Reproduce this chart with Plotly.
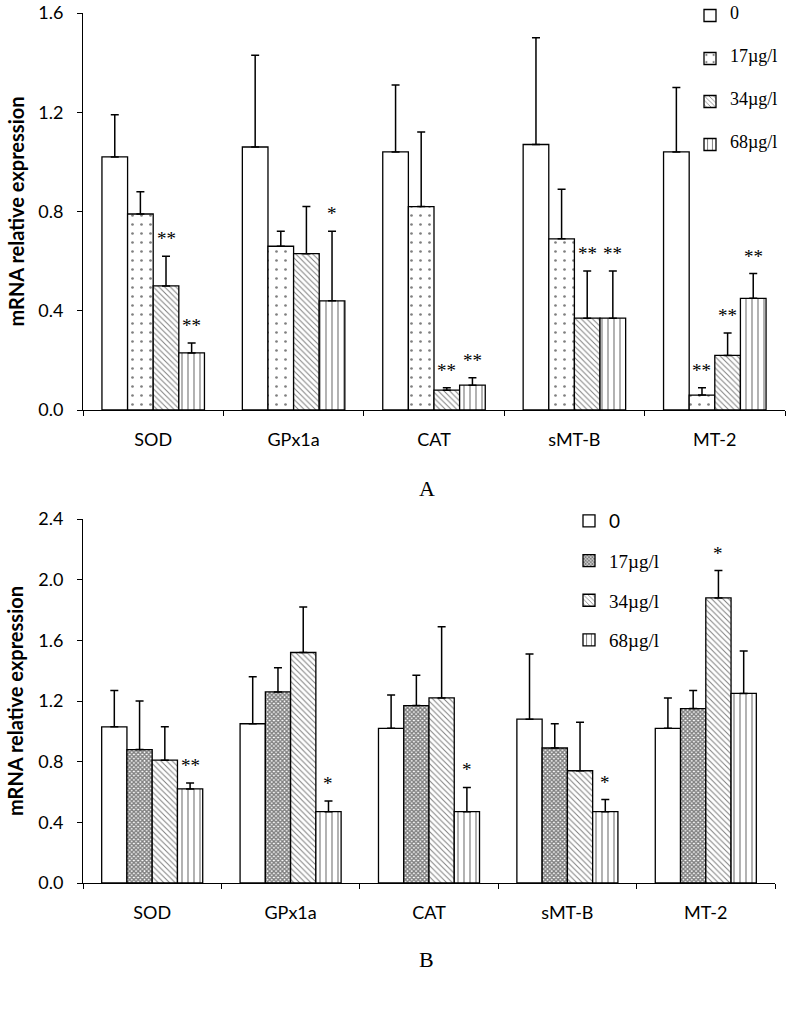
import plotly.graph_objects as go

cats = ['SOD', 'GPx1a', 'CAT', 'sMT-B', 'MT-2']
doses = ['0', '17µg/l', '34µg/l', '68µg/l']

# panel A: mean and top of error bar
a_mean = [
    [1.02, 1.06, 1.04, 1.07, 1.04],
    [0.79, 0.66, 0.82, 0.69, 0.06],
    [0.50, 0.63, 0.08, 0.37, 0.22],
    [0.23, 0.44, 0.10, 0.37, 0.45],
]
a_top = [
    [1.19, 1.43, 1.31, 1.50, 1.30],
    [0.88, 0.72, 1.12, 0.89, 0.09],
    [0.62, 0.82, 0.09, 0.56, 0.31],
    [0.27, 0.72, 0.13, 0.56, 0.55],
]
a_sig = [
    ['', '', '', '', ''],
    ['', '', '', '', '**'],
    ['**', '', '**', '**', '**'],
    ['**', '*', '**', '**', '**'],
]

# panel B
b_mean = [
    [1.03, 1.05, 1.02, 1.08, 1.02],
    [0.88, 1.26, 1.17, 0.89, 1.15],
    [0.81, 1.52, 1.22, 0.74, 1.88],
    [0.62, 0.47, 0.47, 0.47, 1.25],
]
b_top = [
    [1.27, 1.36, 1.24, 1.51, 1.22],
    [1.20, 1.42, 1.37, 1.05, 1.27],
    [1.03, 1.82, 1.69, 1.06, 2.06],
    [0.66, 0.54, 0.63, 0.55, 1.53],
]
b_sig = [
    ['', '', '', '', ''],
    ['', '', '', '', ''],
    ['', '', '', '', '*'],
    ['**', '*', '*', '*', ''],
]

W, H = 787, 1023
BARGAP = 0.27
SANS = 'Lato'
SERIF = 'Liberation Serif'

pat_a = [
    dict(shape=''),
    dict(shape='.', size=9, solidity=0.07, fgcolor='black', bgcolor='white'),
    dict(shape='\\', size=4, solidity=0.25, fgcolor='black', bgcolor='white'),
    dict(shape='|', size=6, solidity=0.2, fgcolor='black', bgcolor='white'),
]
pat_b = [
    dict(shape=''),
    dict(shape='x', size=3, solidity=0.7, fgcolor='black', bgcolor='white'),
    dict(shape='\\', size=4, solidity=0.25, fgcolor='black', bgcolor='white'),
    dict(shape='|', size=6, solidity=0.2, fgcolor='black', bgcolor='white'),
]

fig = go.Figure()
annos = []


def add_panel(means, tops, sigs, pats, xa, ya, leg, names):
    n = len(means)
    bw = (1 - BARGAP) / n
    for j in range(n):
        err = [t - m for t, m in zip(tops[j], means[j])]
        fig.add_trace(go.Bar(
            x=cats, y=means[j], name=names[j], xaxis=xa, yaxis=ya,
            legend=leg, legendgroup=leg + str(j),
            marker=dict(color='white', line=dict(color='black', width=1.3),
                        pattern=pats[j]),
            error_y=dict(type='data', symmetric=False, array=err,
                         arrayminus=[0] * len(err), color='black',
                         thickness=1.5, width=4),
        ))
        for i, s in enumerate(sigs[j]):
            if s:
                annos.append(dict(
                    x=i + (j - (n - 1) / 2) * bw, y=tops[j][i],
                    xref=xa, yref=ya, text=s, showarrow=False,
                    yanchor='bottom', yshift=5,
                    font=dict(family=SERIF, size=19, color='black')))


# legend text sized through spans so the small base font keeps the box near the top
a_names = ['<span style="font-size:18px">%s</span>' % d for d in doses]
b_names = ['<span style="font-size:19px;font-family:Lato">0</span>'] + \
          ['<span style="font-size:19px">%s</span>' % d for d in doses[1:]]
add_panel(a_mean, a_top, a_sig, pat_a, 'x', 'y', 'legend', a_names)
add_panel(b_mean, b_top, b_sig, pat_b, 'x2', 'y2', 'legend2', b_names)

xcommon = dict(type='category', showline=True, linecolor='black', linewidth=1,
               ticks='outside', tickson='boundaries', ticklen=5, tickcolor='black',
               showgrid=False, automargin=False, ticklabelstandoff=13,
               tickfont=dict(family=SANS, size=18, color='black'))
ycommon = dict(showline=True, linecolor='black', linewidth=1, ticks='outside',
               ticklen=5, tickcolor='black', showgrid=False, zeroline=False,
               automargin=False, ticklabelstandoff=10, tickformat='.1f',
               tickfont=dict(family=SANS, size=18, color='black'))

ya_top, ya_bot = 13, 410
yb_top, yb_bot = 519, 883
x_left = 83

fig.update_layout(
    width=W, height=H, margin=dict(l=0, r=0, t=0, b=0),
    paper_bgcolor='white', plot_bgcolor='white',
    barmode='group', bargap=BARGAP, bargroupgap=0,
    xaxis=dict(xcommon, domain=[x_left / W, 785 / W], anchor='y'),
    yaxis=dict(ycommon, domain=[1 - ya_bot / H, 1 - ya_top / H], range=[0, 1.6001],
               dtick=0.4, anchor='x'),
    xaxis2=dict(xcommon, domain=[x_left / W, 775 / W], anchor='y2'),
    yaxis2=dict(ycommon, domain=[1 - yb_bot / H, 1 - yb_top / H], range=[0, 2.4001],
                dtick=0.4, anchor='x2'),
    legend=dict(x=690 / W, y=1 - 1 / H, xanchor='left', yanchor='top',
                font=dict(family=SERIF, size=10, color='black'),
                tracegroupgap=24, bgcolor='rgba(0,0,0,0)'),
    legend2=dict(x=569 / W, y=1 - 502 / H, xanchor='left', yanchor='top',
                 font=dict(family=SERIF, size=19, color='black'),
                 tracegroupgap=12, bgcolor='rgba(0,0,0,0)'),
    showlegend=True,
)

for yc in [(ya_top + ya_bot) / 2, (yb_top + yb_bot) / 2]:
    annos.append(dict(x=15 / W, y=1 - yc / H, xref='paper', yref='paper',
                      text='<b>mRNA relative expression</b>', textangle=-90,
                      showarrow=False, xanchor='center', yanchor='middle',
                      font=dict(family=SANS, size=20, color='black')))
annos.append(dict(x=427 / W, y=1 - 488 / H, xref='paper', yref='paper', text='A',
                  showarrow=False, font=dict(family=SERIF, size=22, color='black')))
annos.append(dict(x=427 / W, y=1 - 974 / H, xref='paper', yref='paper', text='B',
                  showarrow=False, font=dict(family=SERIF, size=22, color='black')))
fig.update_layout(annotations=annos)

# drop the default page margin so the figure sits at the window's corner
fig.write_html('out.html', config={'displayModeBar': False},
               post_script="document.body.style.margin='0';")
